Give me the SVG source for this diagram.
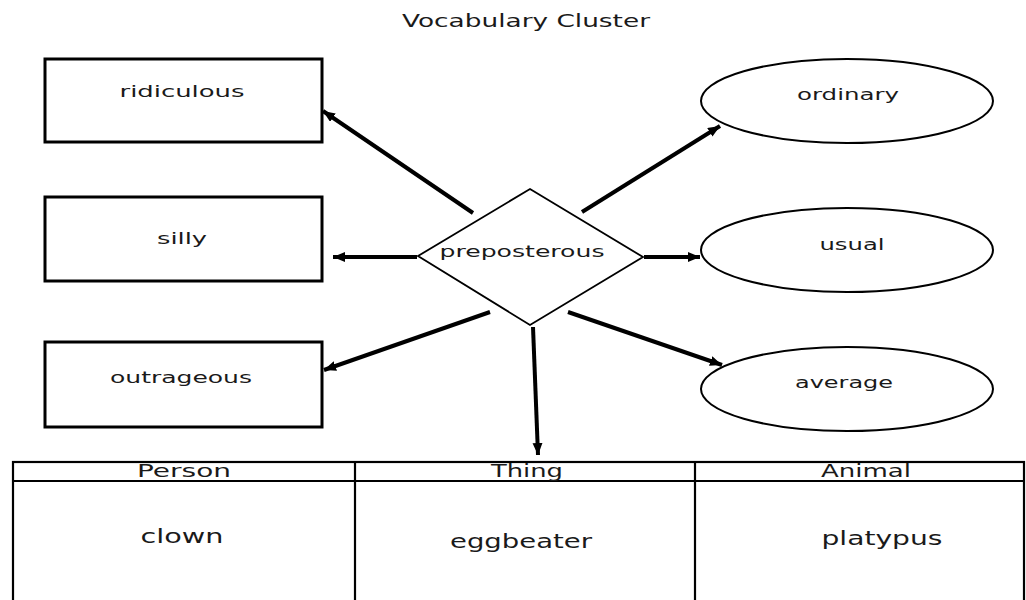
<svg xmlns="http://www.w3.org/2000/svg" width="1026" height="600" viewBox="0 0 1026 600">
<style>
text{font-family:"DejaVu Sans","Liberation Sans",sans-serif;fill:#1a1a1a;text-anchor:middle}
.lbl{font-size:16px}
.title{font-size:17px}
.hdr{font-size:17px}
.body{font-size:19px;font-weight:500}
.box{fill:#fff;stroke:#000;stroke-width:3}
.oval{fill:#fff;stroke:#000;stroke-width:2}
.dia{fill:#fff;stroke:#000;stroke-width:1.8}
.tbl{fill:none;stroke:#000;stroke-width:2.2}
.con{stroke:#000;stroke-width:4;fill:none;marker-end:url(#ah)}
</style>
<defs>
<marker id="ah" markerUnits="userSpaceOnUse" markerWidth="14" markerHeight="12" refX="12" refY="5" orient="auto">
<path d="M0,0 L12,5 L0,10 Z" fill="#000"/>
</marker>
</defs>
<rect width="1026" height="600" fill="#fff"/>
<text class="title" x="526" y="27" textLength="248" lengthAdjust="spacingAndGlyphs">Vocabulary Cluster</text>

<g id="connectors">
<line class="con" x1="473" y1="213" x2="323" y2="111"/>
<line class="con" x1="582" y1="212" x2="720" y2="126"/>
<line class="con" x1="417" y1="257" x2="333" y2="257"/>
<line class="con" x1="644" y1="257" x2="700" y2="257"/>
<line class="con" x1="490" y1="312" x2="324" y2="370"/>
<line class="con" x1="568" y1="312" x2="722" y2="365"/>
<line class="con" x1="533" y1="327" x2="538" y2="455"/>
</g>

<g id="node-ridiculous">
<rect class="box" x="45" y="59" width="277" height="83"/>
<text class="lbl" x="182" y="97" textLength="125" lengthAdjust="spacingAndGlyphs">ridiculous</text>
</g>
<g id="node-silly">
<rect class="box" x="45" y="197" width="277" height="84"/>
<text class="lbl" x="182" y="244" textLength="50" lengthAdjust="spacingAndGlyphs">silly</text>
</g>
<g id="node-outrageous">
<rect class="box" x="45" y="342" width="277" height="85"/>
<text class="lbl" x="181" y="383" textLength="142" lengthAdjust="spacingAndGlyphs">outrageous</text>
</g>

<g id="node-ordinary">
<ellipse class="oval" cx="847" cy="101" rx="146" ry="42"/>
<text class="lbl" x="848" y="100" textLength="102" lengthAdjust="spacingAndGlyphs">ordinary</text>
</g>
<g id="node-usual">
<ellipse class="oval" cx="847" cy="250" rx="146" ry="42"/>
<text class="lbl" x="852" y="250" textLength="65" lengthAdjust="spacingAndGlyphs">usual</text>
</g>
<g id="node-average">
<ellipse class="oval" cx="847" cy="389" rx="146" ry="42"/>
<text class="lbl" x="844" y="388" textLength="98" lengthAdjust="spacingAndGlyphs">average</text>
</g>

<g id="node-preposterous">
<polygon class="dia" points="530,189 643,257 530,325 418,256"/>
<text class="lbl" x="522" y="257" textLength="165" lengthAdjust="spacingAndGlyphs">preposterous</text>
</g>

<g id="node-table">
<rect class="tbl" x="13" y="462" width="1011" height="150"/>
<line class="tbl" x1="13" y1="481" x2="1024" y2="481"/>
<line class="tbl" x1="355" y1="462" x2="355" y2="612"/>
<line class="tbl" x1="695" y1="462" x2="695" y2="612"/>
<text class="hdr" x="184" y="477" textLength="94" lengthAdjust="spacingAndGlyphs">Person</text>
<text class="hdr" x="527" y="477" textLength="72" lengthAdjust="spacingAndGlyphs">Thing</text>
<text class="hdr" x="866" y="477" textLength="90" lengthAdjust="spacingAndGlyphs">Animal</text>
<text class="body" x="182" y="543" textLength="83" lengthAdjust="spacingAndGlyphs">clown</text>
<text class="body" x="521" y="548" textLength="142" lengthAdjust="spacingAndGlyphs">eggbeater</text>
<text class="body" x="882" y="545" textLength="121" lengthAdjust="spacingAndGlyphs">platypus</text>
</g>
</svg>
